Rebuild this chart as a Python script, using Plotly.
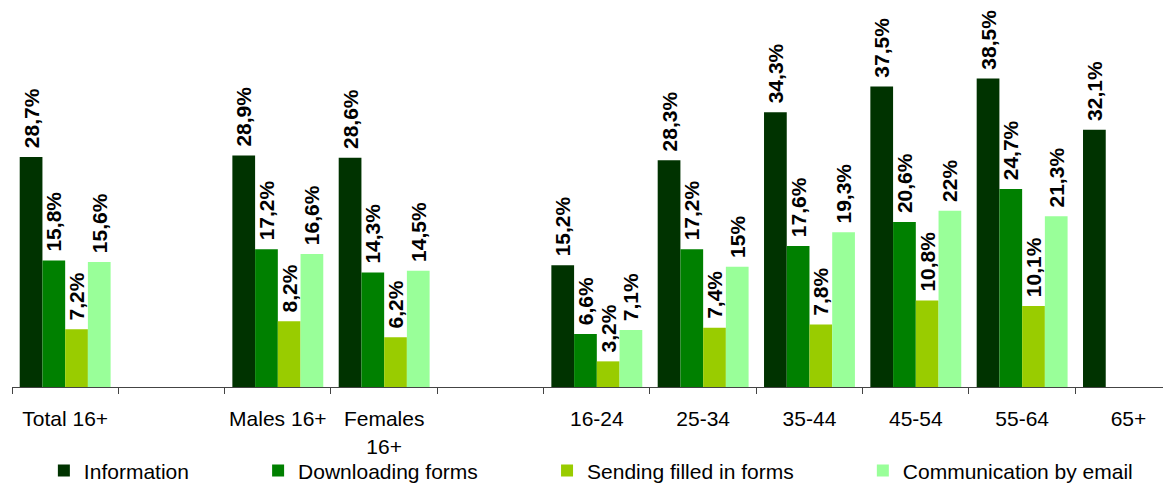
import plotly.graph_objects as go

categories = ["Total 16+", " ", "Males 16+", "Females<br>16+", "  ", "16-24", "25-34", "35-44", "45-54", "55-64", "65+"]
information = [28.7, None, 28.9, 28.6, None, 15.2, 28.3, 34.3, 37.5, 38.5, 32.1]
downloading = [15.8, None, 17.2, 14.3, None, 6.6, 17.2, 17.6, 20.6, 24.7, None]
sending = [7.2, None, 8.2, 6.2, None, 3.2, 7.4, 7.8, 10.8, 10.1, None]
email = [15.6, None, 16.6, 14.5, None, 7.1, 15, 19.3, 22, 21.3, None]

series = [
    ("Information", information, "#003300"),
    ("Downloading forms", downloading, "#008000"),
    ("Sending filled in forms", sending, "#99CC00"),
    ("Communication by email", email, "#99FF99"),
]

def fmt(v):
    if v is None:
        return ""
    return "\u00a0" + f"{v:g}".replace(".", ",") + "%"

FONT = "Liberation Sans, Arial, sans-serif"
PAD = "\u00a0" * 11

fig = go.Figure()
for i, (name, vals, color) in enumerate(series):
    fig.add_trace(go.Bar(
        name=name + (PAD if i < len(series) - 1 else ""),
        x=categories,
        y=vals,
        marker=dict(color=color, line=dict(width=0)),
        text=[fmt(v) for v in vals],
        textposition="outside",
        textangle=-90,
        textfont=dict(family=FONT, size=21, color="black", weight="bold"),
        cliponaxis=False,
        constraintext="none",
        hoverinfo="skip",
    ))

fig.update_layout(
    width=1163,
    height=476,
    margin=dict(l=4, r=0, t=0, b=97, autoexpand=False),
    paper_bgcolor="white",
    plot_bgcolor="white",
    barmode="group",
    bargap=0.145,
    bargroupgap=0,
    font=dict(family=FONT, size=21, color="black"),
    showlegend=True,
    legend=dict(
        orientation="h",
        x=0.0275,
        xanchor="left",
        y=-0.167,
        yanchor="top",
        bgcolor="rgba(0,0,0,0)",
        font=dict(family=FONT, size=21, color="black"),
        itemclick=False,
    ),
    xaxis=dict(
        type="category",
        range=[-0.5, 10.4],
        automargin=False,
        showline=True,
        linecolor="#444444",
        linewidth=1,
        ticks="outside",
        tickson="boundaries",
        ticklen=6,
        tickcolor="#444444",
        tickangle=0,
        showgrid=False,
        zeroline=False,
        tickfont=dict(family=FONT, size=21, color="black"),
        ticklabelstandoff=13,
        fixedrange=True,
    ),
    yaxis=dict(
        visible=False,
        range=[0, 47.3],
        automargin=False,
        fixedrange=True,
    ),
)

fig.write_html("out.html")
